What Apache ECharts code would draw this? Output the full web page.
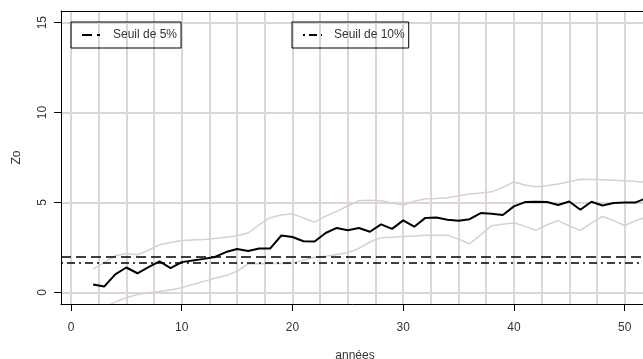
<!DOCTYPE html>
<html>
<head>
<meta charset="utf-8">
<script src="https://cdn.jsdelivr.net/npm/echarts@6/dist/echarts.min.js"></script>
<style>
html, body { margin: 0; padding: 0; background: #fff; }
#chart { width: 643px; height: 359px; }
</style>
</head>
<body>
<div id="chart"></div>
<script>
// années
var years = [2, 3, 4, 5, 6, 7, 8, 9, 10, 11, 12, 13, 14, 15, 16, 17, 18, 19, 20, 21, 22, 23, 24, 25, 26, 27,
  28, 29, 30, 31, 32, 33, 34, 35, 36, 37, 38, 39, 40, 41, 42, 43, 44, 45, 46, 47, 48, 49, 50, 51, 52];
// statistique Zo
var zo = [0.43, 0.32, 1.0, 1.38, 1.06, 1.4, 1.72, 1.35, 1.68, 1.77, 1.86, 1.97, 2.24, 2.41, 2.3, 2.44, 2.44,
  3.16, 3.08, 2.84, 2.83, 3.3, 3.58, 3.45, 3.58, 3.37, 3.78, 3.53, 4.0, 3.65, 4.14, 4.16, 4.04, 3.98, 4.07,
  4.41, 4.37, 4.30, 4.78, 5.02, 5.04, 5.02, 4.86, 5.05, 4.59, 5.04, 4.83, 4.97, 5.0, 5.0, 5.25];
// bornes haute et basse
var zoHaut = [1.29, 1.65, 2.04, 2.16, 2.09, 2.34, 2.65, 2.77, 2.88, 2.91, 2.94, 3.0, 3.06, 3.15, 3.3, 3.76,
  4.15, 4.3, 4.37, 4.13, 3.9, 4.24, 4.5, 4.8, 5.1, 5.12, 5.1, 4.97, 4.85, 5.07, 5.2, 5.22, 5.26, 5.37, 5.47,
  5.52, 5.59, 5.84, 6.14, 5.97, 5.87, 5.93, 6.03, 6.15, 6.29, 6.28, 6.26, 6.24, 6.2, 6.17, 6.13];
var zoBas = [-1.3, -0.88, -0.53, -0.3, -0.12, -0.02, 0.04, 0.13, 0.26, 0.43, 0.61, 0.78, 0.93, 1.17, 1.59,
  1.59, 1.61, 1.61, 1.61, 1.79, 1.95, 2.0, 2.1, 2.2, 2.44, 2.8, 3.04, 3.06, 3.11, 3.13, 3.17, 3.18, 3.18,
  2.96, 2.7, 3.2, 3.71, 3.79, 3.87, 3.67, 3.45, 3.76, 3.99, 3.7, 3.44, 3.85, 4.22, 3.99, 3.72, 3.99, 4.2];
// seuils
var seuil5 = 1.96;
var seuil10 = 1.645;
// graduations
var xTicks = [0, 10, 20, 30, 40, 50];
var yTicks = [0, 5, 10, 15];
var gridX = [0, 2.5, 5, 7.5, 10, 12.5, 15, 17.5, 20, 22.5, 25, 27.5, 30, 32.5, 35, 37.5, 40, 42.5, 45, 47.5, 50];
var gridY = [0, 5, 10, 15];

function pairs(ys) {
  return years.map(function (x, i) { return [x, ys[i]]; });
}

var txt = { color: '#333', fontFamily: 'Liberation Sans', fontSize: 12 };
var grisGrille = '#ded6d2';
var grisBande = '#d9cfcb';
var axeNoir = { show: true, onZero: false, lineStyle: { color: '#000', width: 1 } };

var chart = echarts.init(document.getElementById('chart'), null, { renderer: 'canvas' });
chart.setOption({
  animation: false,
  backgroundColor: '#fff',
  grid: { left: 61, top: 11, width: 588, height: 293, outerBoundsMode: 'none', containLabel: false },
  legend: [
    {
      data: ['Seuil de 5%'], left: 71, top: 22,
      padding: [7, 4, 7, 10], itemWidth: 18, itemHeight: 12,
      borderColor: '#000', borderWidth: 1,
      itemStyle: { opacity: 0 },
      textStyle: Object.assign({ padding: [0, 0, 0, 8] }, txt)
    },
    {
      data: ['Seuil de 10%'], left: 292, top: 22,
      padding: [7, 4, 7, 10], itemWidth: 19, itemHeight: 12,
      borderColor: '#000', borderWidth: 1,
      itemStyle: { opacity: 0 },
      textStyle: Object.assign({ padding: [0, 0, 0, 7] }, txt)
    }
  ],
  xAxis: [
    {
      type: 'value', min: -0.9, max: 52.2, z: 10,
      name: 'années', nameLocation: 'middle', nameGap: 46,
      nameTextStyle: txt,
      axisLine: axeNoir,
      axisTick: { show: true, length: 7, customValues: xTicks, lineStyle: { color: '#000' } },
      axisLabel: Object.assign({ customValues: xTicks, margin: 18 }, txt),
      splitLine: { show: false }
    },
    {
      // bord haut du cadre
      type: 'value', position: 'top', min: -0.9, max: 52.2, z: 10,
      axisLine: axeNoir, axisTick: { show: false }, axisLabel: { show: false },
      splitLine: { show: false }
    }
  ],
  yAxis: {
    type: 'value', min: -0.65, max: 15.65, z: 10,
    name: 'Zo', nameLocation: 'middle', nameGap: 38,
    nameTextStyle: txt,
    axisLine: axeNoir,
    axisTick: { show: true, length: 7, customValues: yTicks, lineStyle: { color: '#000' } },
    axisLabel: Object.assign({ customValues: yTicks, rotate: 90, margin: 12 }, txt),
    splitLine: { show: false }
  },
  series: [
    {
      // quadrillage
      type: 'line', data: [], silent: true, z: 1,
      markLine: {
        silent: true, symbol: 'none', animation: false, z: 1,
        label: { show: false },
        lineStyle: { color: grisGrille, width: 2, type: 'solid' },
        data: gridX.map(function (v) { return { xAxis: v }; })
          .concat(gridY.map(function (v) { return { yAxis: v }; }))
      }
    },
    {
      name: 'borne haute', type: 'line', data: pairs(zoHaut), symbol: 'none', z: 2,
      lineStyle: { color: grisBande, width: 1.5 }
    },
    {
      name: 'borne basse', type: 'line', data: pairs(zoBas), symbol: 'none', z: 2,
      lineStyle: { color: grisBande, width: 1.5 }
    },
    {
      name: 'Seuil de 5%', type: 'line', data: [], symbol: 'none', z: 3,
      itemStyle: { color: '#000' },
      lineStyle: { color: '#000', width: 1.5, type: [10, 5] },
      markLine: {
        silent: true, symbol: 'none', label: { show: false }, z: 3,
        lineStyle: { color: '#000', width: 1.5, type: [10, 5] },
        data: [{ yAxis: seuil5 }]
      }
    },
    {
      name: 'Seuil de 10%', type: 'line', data: [], symbol: 'none', z: 3,
      itemStyle: { color: '#000' },
      lineStyle: { color: '#000', width: 1.5, type: [2, 4, 8, 4] },
      markLine: {
        silent: true, symbol: 'none', label: { show: false }, z: 3,
        lineStyle: { color: '#000', width: 1.5, type: [2, 4, 8, 4] },
        data: [{ yAxis: seuil10 }]
      }
    },
    {
      name: 'Zo', type: 'line', data: pairs(zo), symbol: 'none', z: 4,
      lineStyle: { color: '#000', width: 2 }
    }
  ]
});
</script>
</body>
</html>
